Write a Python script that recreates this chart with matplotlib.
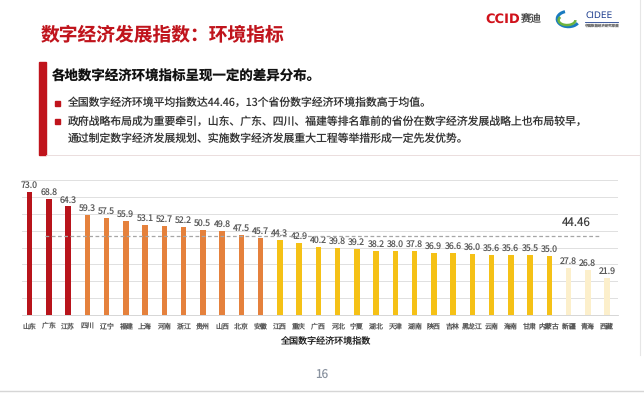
import matplotlib
matplotlib.use("Agg")
import matplotlib.pyplot as plt
from matplotlib.patches import Rectangle, Arc
from matplotlib.lines import Line2D

plt.rcParams['font.family'] = ['Noto Sans CJK SC', 'DejaVu Sans']
plt.rcParams['text.hinting'] = 'none'
plt.rcParams['text.hinting_factor'] = 1

provinces = ["山东", "广东", "江苏", "四川", "辽宁", "福建", "上海", "河南", "浙江", "贵州",
             "山西", "北京", "安徽", "江西", "重庆", "广西", "河北", "宁夏", "湖北", "天津",
             "湖南", "陕西", "吉林", "黑龙江", "云南", "海南", "甘肃", "内蒙古", "新疆", "青海", "西藏"]
values = [73.0, 68.8, 64.3, 59.3, 57.5, 55.9, 53.1, 52.7, 52.2, 50.5,
          49.8, 47.5, 45.7, 44.3, 42.9, 40.2, 39.8, 39.2, 38.2, 38.0,
          37.8, 36.9, 36.6, 36.0, 35.6, 35.6, 35.5, 35.0, 27.8, 26.8, 21.9]
groups = [0] * 3 + [1] * 10 + [2] * 15 + [3] * 3
group_colors = ["#B8141B", "#E5813C", "#F5C116", "#FCEFCB"]
average = 44.46
avg_label = "44.46"

W, H = 644, 393
fig = plt.figure(figsize=(W / 100, H / 100), dpi=100)
fig.patch.set_facecolor("white")


def fx(x):
    return x / W


def fy(y):
    return 1 - y / H


# Title
fig.text(fx(41), fy(35), "数字经济发展指数：环境指标", color="#C0141C", fontsize=13.5,
         fontweight="bold", va="center", ha="left")

# Logos
fig.text(fx(485), fy(19), "CCID", color="#D0121B", fontsize=9.5, fontweight="bold",
         va="center", ha="left", family=["DejaVu Sans"])
fig.text(fx(521), fy(19), "赛迪", color="#444444", fontsize=7.5, va="center", ha="left")
logo_ax = fig.add_axes([fx(553), fy(30), 28 / W, 22 / H])
logo_ax.set_xlim(0, 1)
logo_ax.set_ylim(0, 1)
logo_ax.axis("off")
logo_ax.add_patch(Arc((0.55, 0.5), 0.8, 0.7, theta1=110, theta2=330, color="#1A7BC0", lw=2.2))
logo_ax.add_patch(Arc((0.5, 0.45), 0.6, 0.45, theta1=150, theta2=360, color="#6DB33F", lw=1.8))
fig.text(fx(585), fy(15), "CIDEE", color="#1F3F8F", fontsize=6.5, va="center", ha="left",
         family=["DejaVu Sans"])
fig.add_artist(Line2D([fx(585), fx(618)], [fy(22), fy(22)], color="#1F3F8F", lw=0.6))
fig.text(fx(585), fy(25), "中国数据经济研究联盟", color="#777777", fontsize=2.5, va="center", ha="left")

# Text box with red left bar
fig.add_artist(Rectangle((fx(39), fy(155)), 7 / W, (155 - 62) / H, color="#C0141C",
                         transform=fig.transFigure))
fig.add_artist(Line2D([fx(46), fx(640)], [fy(155), fy(155)], color="#E8D8D8", lw=0.6))
fig.text(fx(52), fy(77), "各地数字经济环境指标呈现一定的差异分布。", color="#111111",
         fontsize=9.7, fontweight="bold", va="center", ha="left")

bullet_lines = [
    (103, "全国数字经济环境平均指数达44.46，13个省份数字经济环境指数高于均值。", True),
    (122, "政府战略布局成为重要牵引，山东、广东、四川、福建等排名靠前的省份在数字经济发展战略上也布局较早，", True),
    (139, "通过制定数字经济发展规划、实施数字经济发展重大工程等举措形成一定先发优势。", False),
]
for y, txt, has_bullet in bullet_lines:
    if has_bullet:
        fig.add_artist(Rectangle((fx(55), fy(y + 2.5)), 5 / W, 5 / H, color="#C0141C",
                                 transform=fig.transFigure))
    fig.text(fx(68), fy(y), txt, color="#333333", fontsize=7.8, va="center", ha="left")

# Chart
ax = fig.add_axes([fx(22), fy(315), (618 - 22) / W, (315 - 180) / H])
x = list(range(len(provinces)))
colors = [group_colors[g] for g in groups]
ax.bar(x, values, width=0.29, color=colors, zorder=3)
ax.set_xlim(-0.4, 30.57)
ax.set_ylim(0, 80)
ax.set_yticks(range(0, 81, 10))
ax.yaxis.grid(True, color="#DADADA", lw=0.6, zorder=0)
ax.tick_params(axis="y", left=False, labelleft=False)
ax.tick_params(axis="x", bottom=False, pad=6.3)
ax.set_xticks(x)
ax.set_xticklabels(provinces, fontsize=5.0, color="#595959")
for lbl in ax.get_xticklabels():
    lbl.set_verticalalignment("baseline")
for s in ["top", "right", "left"]:
    ax.spines[s].set_visible(False)
ax.spines["bottom"].set_color("#D0D0D0")
ax.spines["bottom"].set_linewidth(0.6)

for xi, v in zip(x, values):
    ax.text(xi, v + 1.2, f"{v:.1f}", ha="center", va="bottom", fontsize=6.3,
            color="#595959", zorder=4)

ax.plot([0.8, 29.7], [average + 2.3, average + 2.3], ls=(0, (3, 2)), color="#A6A6A6",
        lw=0.9, zorder=4)
ax.text(28.4, average + 9.5, avg_label, ha="center", va="center", fontsize=8.3,
        color="#404040", zorder=4)

fig.text(fx(325), fy(340), "全国数字经济环境指数", ha="center", va="center",
         fontsize=6.5, color="#222222")

# Page number and slide edges
fig.text(fx(322), fy(374), "16", ha="center", va="center", fontsize=8.5, color="#8A93A0")
fig.add_artist(Line2D([0, 1], [fy(391), fy(391)], color="#D6D6D6", lw=1.0))
fig.add_artist(Line2D([fx(640), fx(640)], [fy(0), fy(355)], color="#E6E6E6", lw=0.8))

fig.savefig("out.png", dpi=100, facecolor="white")
